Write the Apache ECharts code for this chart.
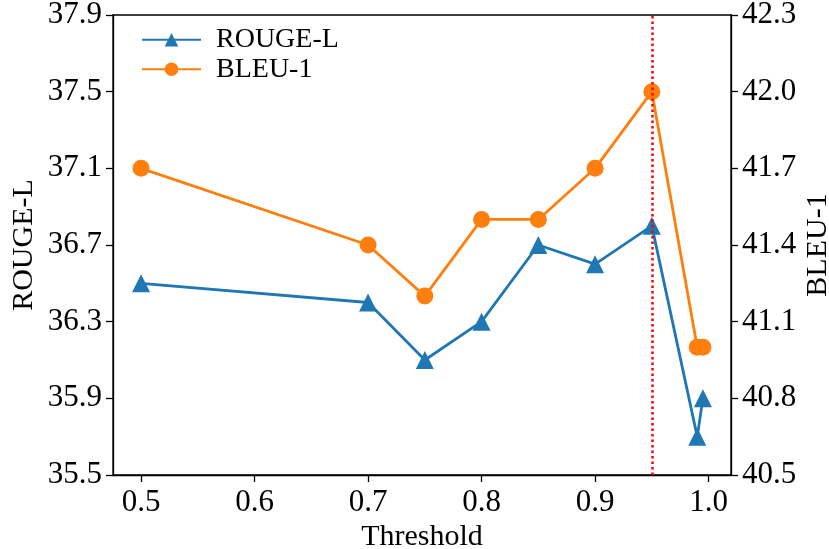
<!DOCTYPE html>
<html>
<head>
<meta charset="utf-8">
<script src="https://cdn.jsdelivr.net/npm/echarts@6/dist/echarts.min.js"></script>
<style>
  html, body { margin: 0; padding: 0; background: #fff; }
  #chart { width: 829px; height: 549px; }
</style>
</head>
<body>
<div id="chart"></div>
<script>
// data
var thresholds = [0.5, 0.7, 0.75, 0.8, 0.85, 0.9, 0.95, 0.99, 0.995];
var rougeL = [36.5, 36.4, 36.1, 36.3, 36.7, 36.6, 36.8, 35.7, 35.9];
var bleu1 = [41.7, 41.4, 41.2, 41.5, 41.5, 41.7, 42.0, 41.0, 41.0];
var chosenThreshold = 0.95;

var xTicks = [0.5, 0.6, 0.7, 0.8, 0.9, 1.0];
var leftTicks = [35.5, 35.9, 36.3, 36.7, 37.1, 37.5, 37.9];
var rightTicks = [40.5, 40.8, 41.1, 41.4, 41.7, 42.0, 42.3];

var font = "'Liberation Serif', 'DejaVu Serif', serif";

function pairs(xs, ys) {
  return xs.map(function (x, i) { return [x, ys[i]]; });
}

var myChart = echarts.init(document.getElementById("chart"));

var axisLine = { show: true, lineStyle: { color: "#000", width: 1.3 } };
var axisTickBase = { show: true, inside: false, length: 7, lineStyle: { color: "#000", width: 1.3 } };

var option = {
  animation: false,
  backgroundColor: "#fff",
  grid: {
    left: 113, right: 98, top: 15, bottom: 74,
    outerBoundsMode: "none",
    containLabel: false,
    show: true, borderColor: "#000", borderWidth: 1.3
  },
  legend: {
    orient: "vertical",
    left: 136,
    top: 20,
    itemWidth: 59,
    itemHeight: 17,
    itemGap: 0,
    textStyle: { fontFamily: font, fontSize: 28, lineHeight: 29.5, color: "#000", padding: [0, 0, 0, 10] },
    data: ["ROUGE-L", "BLEU-1"]
  },
  xAxis: {
    type: "value",
    min: 0.47525,
    max: 1.01975,
    name: "Threshold",
    nameLocation: "middle",
    nameGap: 47,
    nameMoveOverlap: false,
    nameTextStyle: { fontFamily: font, fontSize: 30, color: "#000" },
    axisLine: axisLine,
    axisTick: Object.assign({ customValues: xTicks }, axisTickBase),
    splitLine: { show: false },
    axisLabel: {
      customValues: xTicks,
      margin: 12,
      fontFamily: font, fontSize: 31, color: "#000",
      formatter: function (v) { return v.toFixed(1); }
    }
  },
  yAxis: [
    {
      type: "value",
      position: "left",
      min: 35.5,
      max: 37.9,
      name: "ROUGE-L",
      nameLocation: "middle",
      nameGap: 74,
      nameRotate: 90,
      nameMoveOverlap: false,
      nameTextStyle: { fontFamily: font, fontSize: 30, color: "#000" },
      axisLine: axisLine,
      axisTick: Object.assign({ customValues: leftTicks }, axisTickBase),
      splitLine: { show: false },
      axisLabel: {
        customValues: leftTicks,
        margin: 11,
        fontFamily: font, fontSize: 31, color: "#000",
        formatter: function (v) { return v.toFixed(1); }
      }
    },
    {
      type: "value",
      position: "right",
      min: 40.5,
      max: 42.3,
      name: "BLEU-1",
      nameLocation: "middle",
      nameGap: 72,
      nameRotate: 90,
      nameMoveOverlap: false,
      nameTextStyle: { fontFamily: font, fontSize: 30, color: "#000" },
      axisLine: axisLine,
      axisTick: Object.assign({ customValues: rightTicks }, axisTickBase),
      splitLine: { show: false },
      axisLabel: {
        customValues: rightTicks,
        margin: 11,
        fontFamily: font, fontSize: 31, color: "#000",
        formatter: function (v) { return v.toFixed(1); }
      }
    }
  ],
  series: [
    {
      name: "ROUGE-L",
      type: "line",
      yAxisIndex: 0,
      data: pairs(thresholds, rougeL),
      symbol: "triangle",
      symbolSize: 18,
      color: "#1f77b4",
      lineStyle: { width: 2.8, color: "#1f77b4" },
      itemStyle: { color: "#1f77b4" },
      z: 3
    },
    {
      name: "BLEU-1",
      type: "line",
      yAxisIndex: 1,
      data: pairs(thresholds, bleu1),
      symbol: "circle",
      symbolSize: 17,
      color: "#ff7f0e",
      lineStyle: { width: 2.8, color: "#ff7f0e" },
      itemStyle: { color: "#ff7f0e" },
      z: 3,
      markLine: {
        silent: true,
        symbol: ["none", "none"],
        label: { show: false },
        lineStyle: { color: "#ff0000", width: 2.5, type: [2.5, 3] },
        data: [{ xAxis: chosenThreshold }],
        z: 4
      }
    }
  ]
};

myChart.setOption(option);
</script>
</body>
</html>
